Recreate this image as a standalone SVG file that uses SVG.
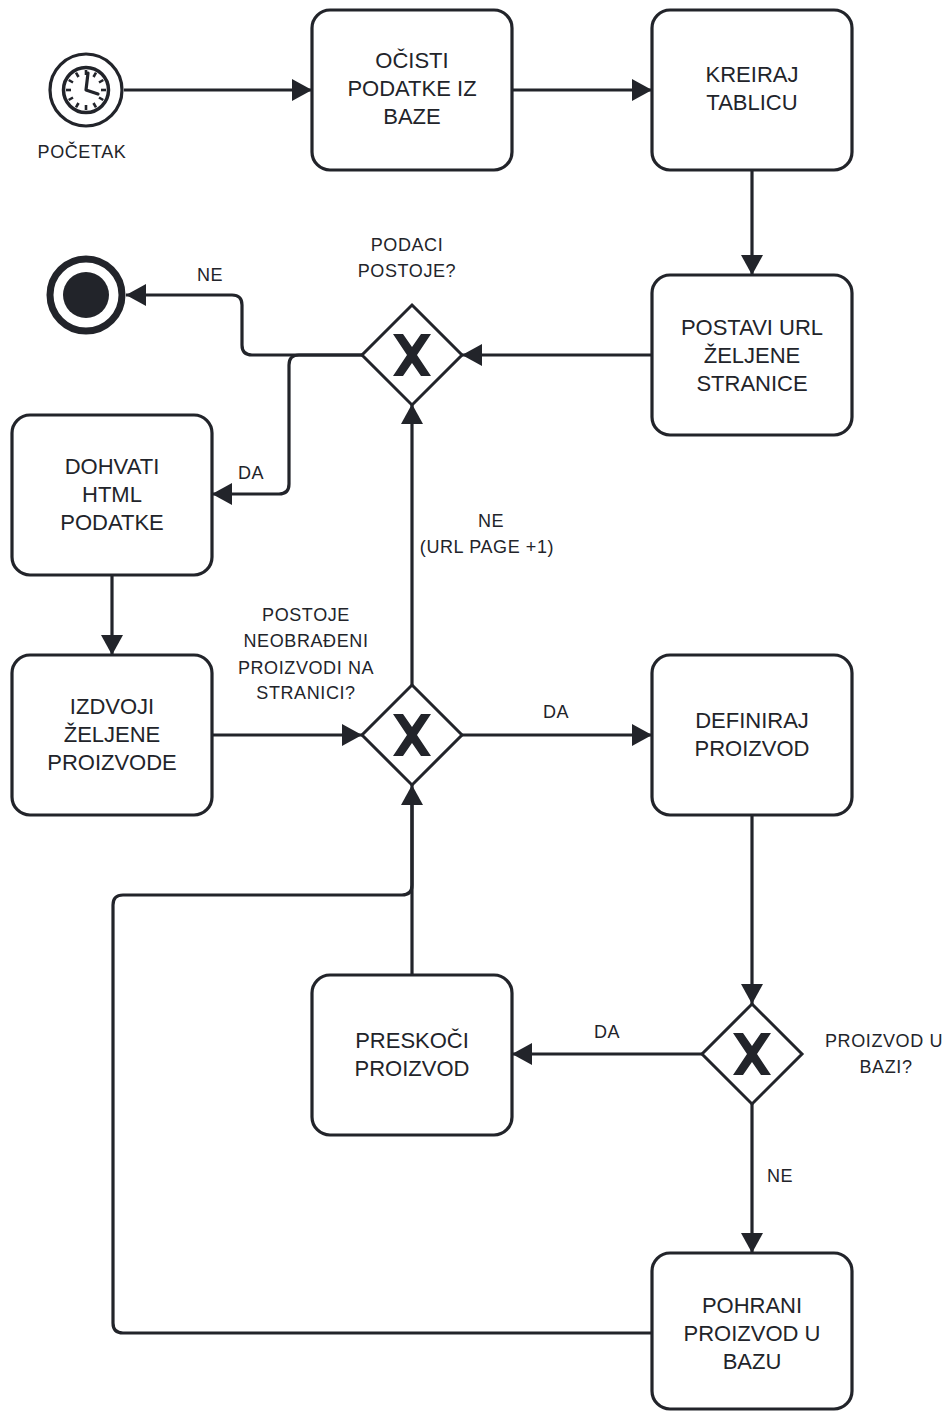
<svg xmlns="http://www.w3.org/2000/svg" width="952" height="1412" viewBox="0 0 952 1412">
<style>
.task{fill:#fff;stroke:#22242a;stroke-width:3.2}
.gw{fill:#fff;stroke:#22242a;stroke-width:3}
.xm{fill:#22242a}
.t{font-family:"Liberation Sans",Arial,sans-serif;font-size:22px;fill:#22242a;text-anchor:middle}
.l{font-family:"Liberation Sans",Arial,sans-serif;font-size:18px;fill:#22242a;text-anchor:middle;letter-spacing:0.6px}
.c{fill:none;stroke:#22242a;stroke-width:3.2;stroke-linejoin:round}
.ca{fill:none;stroke:#22242a;stroke-width:3.2;stroke-linejoin:round;marker-end:url(#arr)}
</style>
<defs>
<marker id="arr" markerUnits="userSpaceOnUse" markerWidth="22" markerHeight="24" refX="20" refY="11" orient="auto">
<path d="M0,0 L20,11 L0,22 Z" fill="#22242a"/>
</marker>
<polygon id="xmark" points="-19,-21 -9,-21 0,-8 9,-21 19,-21 5,0 19,21 9,21 0,8 -9,21 -19,21 -5,0"/>
</defs>

<g id="connectors">
<path class="ca" d="M124,90 H312"/>
<path class="ca" d="M512,90 H652"/>
<path class="ca" d="M752,170 V275"/>
<path class="ca" d="M652,355 H462"/>
<path class="ca" d="M362,355 H252 Q242,355 242,345 V305 Q242,295 232,295 H126"/>
<path class="ca" d="M362,355 H299 Q289,355 289,365 V484 Q289,494 279,494 H212"/>
<path class="ca" d="M112,575 V655"/>
<path class="ca" d="M212,735 H362"/>
<path class="ca" d="M412,685 V404"/>
<path class="ca" d="M462,735 H652"/>
<path class="ca" d="M752,815 V1004"/>
<path class="ca" d="M702,1054 H512"/>
<path class="ca" d="M752,1104 V1253"/>
<path class="ca" d="M412,975 V785"/>
<path class="c" d="M652,1333 H123 Q113,1333 113,1323 V905 Q113,895 123,895 H402 Q412,895 412,885 V800"/>
</g>

<g id="start">
<circle cx="86" cy="90" r="36" fill="#fff" stroke="#22242a" stroke-width="3.2"/>
<circle cx="86" cy="90" r="22.5" fill="#fff" stroke="#22242a" stroke-width="3.5"/>
<g stroke="#22242a" stroke-width="2.6">
<line x1="86" y1="70" x2="86" y2="75"/>
<line x1="96" y1="72.7" x2="93.5" y2="77"/>
<line x1="103.3" y1="80" x2="99" y2="82.5"/>
<line x1="106" y1="90" x2="101" y2="90"/>
<line x1="103.3" y1="100" x2="99" y2="97.5"/>
<line x1="96" y1="107.3" x2="93.5" y2="103"/>
<line x1="86" y1="110" x2="86" y2="105"/>
<line x1="76" y1="107.3" x2="78.5" y2="103"/>
<line x1="68.7" y1="100" x2="73" y2="97.5"/>
<line x1="66" y1="90" x2="71" y2="90"/>
<line x1="68.7" y1="80" x2="73" y2="82.5"/>
<line x1="76" y1="72.7" x2="78.5" y2="77"/>
</g>
<path d="M88,73 L86,90 L98,94" fill="none" stroke="#22242a" stroke-width="3.2" stroke-linecap="round" stroke-linejoin="round"/>
<text class="l" x="82" y="158">POČETAK</text>
</g>

<g id="end">
<circle cx="86" cy="295" r="36" fill="#fff" stroke="#22242a" stroke-width="7"/>
<circle cx="86" cy="295" r="23" fill="#22242a"/>
</g>

<g id="ocisti">
<rect class="task" x="312" y="10" width="200" height="160" rx="18"/>
<text class="t" x="412" y="68">OČISTI</text>
<text class="t" x="412" y="96">PODATKE IZ</text>
<text class="t" x="412" y="124">BAZE</text>
</g>

<g id="kreiraj">
<rect class="task" x="652" y="10" width="200" height="160" rx="18"/>
<text class="t" x="752" y="82">KREIRAJ</text>
<text class="t" x="752" y="110">TABLICU</text>
</g>

<g id="postavi">
<rect class="task" x="652" y="275" width="200" height="160" rx="18"/>
<text class="t" x="752" y="335">POSTAVI URL</text>
<text class="t" x="752" y="363">ŽELJENE</text>
<text class="t" x="752" y="391">STRANICE</text>
</g>

<g id="gw1">
<polygon class="gw" points="412,305 462,355 412,405 362,355"/>
<use class="xm" href="#xmark" x="412" y="355"/>
<text class="l" x="407" y="251">PODACI</text>
<text class="l" x="407" y="277">POSTOJE?</text>
</g>

<g id="dohvati">
<rect class="task" x="12" y="415" width="200" height="160" rx="18"/>
<text class="t" x="112" y="474">DOHVATI</text>
<text class="t" x="112" y="502">HTML</text>
<text class="t" x="112" y="530">PODATKE</text>
</g>

<g id="izdvoji">
<rect class="task" x="12" y="655" width="200" height="160" rx="18"/>
<text class="t" x="112" y="714">IZDVOJI</text>
<text class="t" x="112" y="742">ŽELJENE</text>
<text class="t" x="112" y="770">PROIZVODE</text>
</g>

<g id="gw2">
<polygon class="gw" points="412,685 462,735 412,785 362,735"/>
<use class="xm" href="#xmark" x="412" y="735"/>
<text class="l" x="306" y="621">POSTOJE</text>
<text class="l" x="306" y="647">NEOBRAĐENI</text>
<text class="l" x="306" y="674">PROIZVODI NA</text>
<text class="l" x="306" y="699">STRANICI?</text>
</g>

<g id="definiraj">
<rect class="task" x="652" y="655" width="200" height="160" rx="18"/>
<text class="t" x="752" y="728">DEFINIRAJ</text>
<text class="t" x="752" y="756">PROIZVOD</text>
</g>

<g id="gw3">
<polygon class="gw" points="752,1004 802,1054 752,1104 702,1054"/>
<use class="xm" href="#xmark" x="752" y="1054"/>
<text class="l" x="884" y="1047">PROIZVOD U</text>
<text class="l" x="886" y="1073">BAZI?</text>
</g>

<g id="preskoci">
<rect class="task" x="312" y="975" width="200" height="160" rx="18"/>
<text class="t" x="412" y="1048">PRESKOČI</text>
<text class="t" x="412" y="1076">PROIZVOD</text>
</g>

<g id="pohrani">
<rect class="task" x="652" y="1253" width="200" height="156" rx="18"/>
<text class="t" x="752" y="1313">POHRANI</text>
<text class="t" x="752" y="1341">PROIZVOD U</text>
<text class="t" x="752" y="1369">BAZU</text>
</g>

<g id="labels">
<text class="l" x="210" y="281">NE</text>
<text class="l" x="251" y="479">DA</text>
<text class="l" x="491" y="527">NE</text>
<text class="l" x="487" y="553">(URL PAGE +1)</text>
<text class="l" x="556" y="718">DA</text>
<text class="l" x="607" y="1038">DA</text>
<text class="l" x="780" y="1182">NE</text>
</g>
</svg>
